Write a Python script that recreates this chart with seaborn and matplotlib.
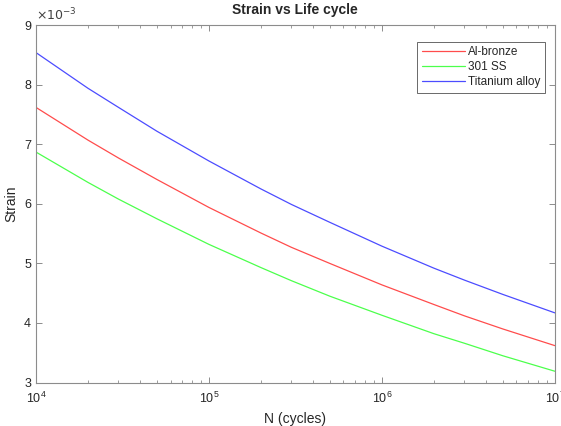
import numpy as np
import pandas as pd
import matplotlib
matplotlib.use("Agg")
import matplotlib.pyplot as plt
import seaborn as sns
from matplotlib.ticker import FixedLocator, FuncFormatter, LogLocator, NullFormatter

# Data
cycles = [1e4, 2e4, 3e4, 5e4, 1e5, 2e5, 3e5, 5e5, 1e6, 2e6, 3e6, 5e6, 1e7]
al_bronze = [7.62e-3, 7.07e-3, 6.77e-3, 6.41e-3, 5.94e-3, 5.51e-3, 5.27e-3, 5.00e-3,
             4.64e-3, 4.31e-3, 4.12e-3, 3.90e-3, 3.62e-3]
ss301 = [6.87e-3, 6.36e-3, 6.08e-3, 5.75e-3, 5.32e-3, 4.93e-3, 4.71e-3, 4.45e-3,
         4.13e-3, 3.82e-3, 3.66e-3, 3.45e-3, 3.19e-3]
titanium = [8.54e-3, 7.94e-3, 7.62e-3, 7.22e-3, 6.72e-3, 6.25e-3, 5.99e-3, 5.69e-3,
            5.29e-3, 4.92e-3, 4.72e-3, 4.48e-3, 4.17e-3]
series_names = ["Al-bronze", "301 SS", "Titanium alloy"]
colors = ["#ff0000", "#00ff00", "#0000ff"]
yticks = [3e-3, 4e-3, 5e-3, 6e-3, 7e-3, 8e-3, 9e-3]

df = pd.DataFrame({
    "N": cycles * 3,
    "Strain": al_bronze + ss301 + titanium,
    "Material": [series_names[0]] * len(cycles) + [series_names[1]] * len(cycles)
                + [series_names[2]] * len(cycles),
})

sns.set_style("white")
plt.rcParams["font.family"] = ["Liberation Sans", "DejaVu Sans"]

fig = plt.figure(figsize=(5.61, 4.26), dpi=100)
ax = fig.add_axes([0.064, 0.102, 0.925, 0.839])

sns.lineplot(data=df, x="N", y="Strain", hue="Material", palette=colors,
             linewidth=0.9, alpha=0.7, ax=ax, legend=True)

ax.set_xscale("log")
ax.set_xlim(1e4, 1e7)
ax.set_ylim(3e-3, 9e-3)
ax.yaxis.set_major_locator(FixedLocator(yticks))
ax.yaxis.set_major_formatter(FuncFormatter(lambda v, p: f"{v*1e3:g}"))
ax.xaxis.set_major_locator(LogLocator(base=10, numticks=10))
ax.xaxis.set_minor_locator(LogLocator(base=10, subs=np.arange(2, 10), numticks=20))
ax.xaxis.set_minor_formatter(NullFormatter())

axcol = "#8c8c8c"
for s in ax.spines.values():
    s.set_visible(True)
    s.set_color(axcol)
    s.set_linewidth(0.8)
ax.tick_params(axis="both", which="both", direction="in", bottom=True, left=True,
               top=True, right=True, color=axcol, labelsize=9, labelcolor="#262626")
ax.tick_params(which="major", length=4, width=0.7)
ax.tick_params(axis="x", which="minor", length=2.5, width=0.6)
ax.tick_params(axis="x", pad=6)

ax.set_xlabel("N (cycles)", fontsize=10, color="#262626")
ax.set_ylabel("Strain", fontsize=10, color="#262626")
ax.set_title("Strain vs Life cycle", fontsize=10, fontweight="bold", pad=8)
ax.text(0.0, 1.005, r"$\times10^{-3}$", transform=ax.transAxes, fontsize=9,
        color="#404040", ha="left", va="bottom")

leg = ax.legend(loc="upper right", bbox_to_anchor=(0.993, 0.97), fontsize=8.5,
                frameon=True, fancybox=False, edgecolor="#262626",
                handlelength=3.6, borderpad=0.4, labelspacing=0.25, handletextpad=0.3)
leg.get_frame().set_linewidth(0.6)

fig.savefig("out.png", dpi=100)
